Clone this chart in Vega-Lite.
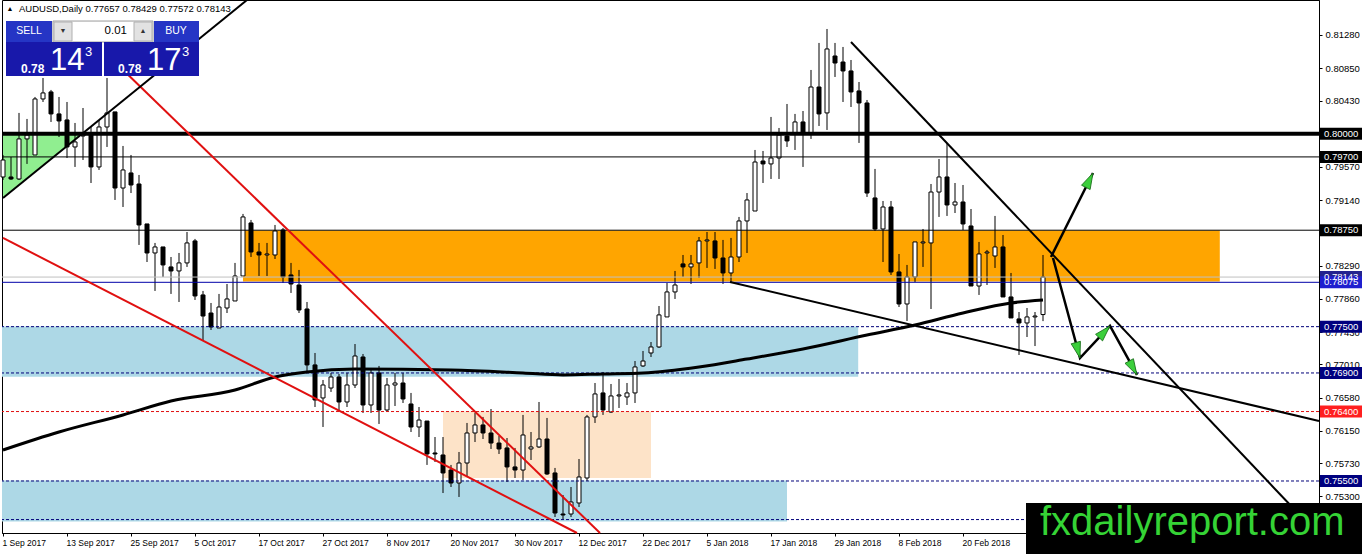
{
"$schema": "https://vega.github.io/schema/vega-lite/v6.json",
"width": 1317, "height": 533,
"autosize": {"type": "none"},
"padding": {"left": 2, "top": 0, "right": 43, "bottom": 21},
"background": "white",
"config": {"view": {"stroke": "black", "strokeWidth": 1}, "font": "Liberation Sans", "axis": {"labelOverlap": false, "labelFlush": false}, "scale": {"continuousPadding": 0}},
"resolve": {"scale": {"color": "independent"}},
"datasets": {
"candles": [
{"i":0,"open":0.7944,"high":0.79725,"low":0.79401,"close":0.7966},
{"i":1,"open":0.7944,"high":0.79699,"low":0.79401,"close":0.79414},
{"i":2,"open":0.79414,"high":0.8027,"low":0.79401,"close":0.79933},
{"i":3,"open":0.79933,"high":0.80192,"low":0.79609,"close":0.79984},
{"i":4,"open":0.79725,"high":0.80477,"low":0.79725,"close":0.80451},
{"i":5,"open":0.80451,"high":0.80723,"low":0.80412,"close":0.80529},
{"i":6,"open":0.80542,"high":0.80568,"low":0.80153,"close":0.80257},
{"i":7,"open":0.80257,"high":0.80477,"low":0.79958,"close":0.80166},
{"i":8,"open":0.80179,"high":0.80412,"low":0.79686,"close":0.79829},
{"i":9,"open":0.79829,"high":0.8014,"low":0.7957,"close":0.79894},
{"i":10,"open":0.79971,"high":0.80334,"low":0.7966,"close":0.79984},
{"i":11,"open":0.79984,"high":0.80088,"low":0.79362,"close":0.7957},
{"i":12,"open":0.7957,"high":0.80179,"low":0.79531,"close":0.80088},
{"i":13,"open":0.80088,"high":0.80723,"low":0.79829,"close":0.8027},
{"i":14,"open":0.80283,"high":0.80283,"low":0.79142,"close":0.79297},
{"i":15,"open":0.79297,"high":0.79842,"low":0.79051,"close":0.79531},
{"i":16,"open":0.79492,"high":0.79725,"low":0.79232,"close":0.79336},
{"i":17,"open":0.79349,"high":0.79466,"low":0.78559,"close":0.78818},
{"i":18,"open":0.78831,"high":0.78831,"low":0.78338,"close":0.78455},
{"i":19,"open":0.78455,"high":0.78585,"low":0.77963,"close":0.78533},
{"i":20,"open":0.78533,"high":0.78533,"low":0.78144,"close":0.783},
{"i":21,"open":0.78274,"high":0.78403,"low":0.77924,"close":0.78222},
{"i":22,"open":0.78222,"high":0.78455,"low":0.7782,"close":0.78326},
{"i":23,"open":0.78326,"high":0.78727,"low":0.78274,"close":0.78585},
{"i":24,"open":0.78611,"high":0.78637,"low":0.77846,"close":0.77898},
{"i":25,"open":0.77911,"high":0.77963,"low":0.77327,"close":0.77638},
{"i":26,"open":0.77677,"high":0.77807,"low":0.77457,"close":0.77496},
{"i":27,"open":0.77483,"high":0.77924,"low":0.77483,"close":0.77755},
{"i":28,"open":0.77742,"high":0.78053,"low":0.77677,"close":0.77859},
{"i":29,"open":0.77833,"high":0.78326,"low":0.77833,"close":0.78157},
{"i":30,"open":0.78157,"high":0.78961,"low":0.78157,"close":0.78922},
{"i":31,"open":0.78844,"high":0.78883,"low":0.78403,"close":0.78468},
{"i":32,"open":0.78468,"high":0.78585,"low":0.78157,"close":0.78429},
{"i":33,"open":0.78429,"high":0.78585,"low":0.78157,"close":0.78442},
{"i":34,"open":0.78429,"high":0.78818,"low":0.78377,"close":0.7874},
{"i":35,"open":0.78753,"high":0.78779,"low":0.78066,"close":0.78144},
{"i":36,"open":0.7817,"high":0.78326,"low":0.77937,"close":0.78053},
{"i":37,"open":0.7804,"high":0.78235,"low":0.77677,"close":0.77716},
{"i":38,"open":0.77729,"high":0.7782,"low":0.769,"close":0.77004},
{"i":39,"open":0.77004,"high":0.77159,"low":0.76459,"close":0.7655},
{"i":40,"open":0.76576,"high":0.76809,"low":0.762,"close":0.76744},
{"i":41,"open":0.76705,"high":0.769,"low":0.76654,"close":0.76848},
{"i":42,"open":0.76848,"high":0.76887,"low":0.7642,"close":0.76524},
{"i":43,"open":0.76524,"high":0.769,"low":0.76459,"close":0.76744},
{"i":44,"open":0.76744,"high":0.77275,"low":0.76705,"close":0.7712},
{"i":45,"open":0.77107,"high":0.77146,"low":0.76382,"close":0.76485},
{"i":46,"open":0.76485,"high":0.76939,"low":0.76382,"close":0.769},
{"i":47,"open":0.769,"high":0.76991,"low":0.76239,"close":0.7642},
{"i":48,"open":0.7642,"high":0.76835,"low":0.76394,"close":0.76744},
{"i":49,"open":0.76744,"high":0.769,"low":0.76472,"close":0.7677},
{"i":50,"open":0.7677,"high":0.769,"low":0.76511,"close":0.76563},
{"i":51,"open":0.76498,"high":0.76641,"low":0.76135,"close":0.762},
{"i":52,"open":0.762,"high":0.76459,"low":0.7607,"close":0.7629},
{"i":53,"open":0.76277,"high":0.76277,"low":0.75708,"close":0.7585},
{"i":54,"open":0.75863,"high":0.7607,"low":0.75746,"close":0.7585},
{"i":55,"open":0.75837,"high":0.7607,"low":0.75344,"close":0.75604},
{"i":56,"open":0.75642,"high":0.75708,"low":0.75422,"close":0.75474},
{"i":57,"open":0.75474,"high":0.75876,"low":0.75293,"close":0.75733},
{"i":58,"open":0.75733,"high":0.76252,"low":0.75565,"close":0.76122},
{"i":59,"open":0.76122,"high":0.76382,"low":0.76005,"close":0.76226},
{"i":60,"open":0.76226,"high":0.7633,"low":0.76044,"close":0.76122},
{"i":61,"open":0.76122,"high":0.76433,"low":0.75915,"close":0.75992},
{"i":62,"open":0.75992,"high":0.76083,"low":0.7585,"close":0.75915},
{"i":63,"open":0.75928,"high":0.76057,"low":0.75487,"close":0.75682},
{"i":64,"open":0.75682,"high":0.75928,"low":0.75539,"close":0.75642},
{"i":65,"open":0.75642,"high":0.76356,"low":0.75513,"close":0.76096},
{"i":66,"open":0.75915,"high":0.76135,"low":0.75772,"close":0.75941},
{"i":67,"open":0.75941,"high":0.76524,"low":0.75928,"close":0.76044},
{"i":68,"open":0.76044,"high":0.76317,"low":0.75578,"close":0.75591},
{"i":69,"open":0.75604,"high":0.75669,"low":0.75033,"close":0.75085},
{"i":70,"open":0.75072,"high":0.75318,"low":0.75007,"close":0.75059},
{"i":71,"open":0.75072,"high":0.75422,"low":0.75033,"close":0.75228},
{"i":72,"open":0.75215,"high":0.75785,"low":0.75163,"close":0.75552},
{"i":73,"open":0.75539,"high":0.76356,"low":0.755,"close":0.7633},
{"i":74,"open":0.7633,"high":0.7677,"low":0.76252,"close":0.76628},
{"i":75,"open":0.76641,"high":0.76913,"low":0.76356,"close":0.7642},
{"i":76,"open":0.76394,"high":0.76757,"low":0.76382,"close":0.76602},
{"i":77,"open":0.76602,"high":0.76822,"low":0.76446,"close":0.76615},
{"i":78,"open":0.76589,"high":0.7677,"low":0.76485,"close":0.76641},
{"i":79,"open":0.76641,"high":0.77055,"low":0.76511,"close":0.76978},
{"i":80,"open":0.76991,"high":0.77185,"low":0.76978,"close":0.77055},
{"i":81,"open":0.77159,"high":0.77301,"low":0.77107,"close":0.77237},
{"i":82,"open":0.77237,"high":0.77768,"low":0.77224,"close":0.77652},
{"i":83,"open":0.77626,"high":0.78066,"low":0.77626,"close":0.7795},
{"i":84,"open":0.7795,"high":0.78222,"low":0.77859,"close":0.7804},
{"i":85,"open":0.78313,"high":0.78429,"low":0.78144,"close":0.78274},
{"i":86,"open":0.78274,"high":0.78429,"low":0.78053,"close":0.78313},
{"i":87,"open":0.78326,"high":0.78662,"low":0.78131,"close":0.78611},
{"i":88,"open":0.78611,"high":0.78727,"low":0.78261,"close":0.78624},
{"i":89,"open":0.78611,"high":0.78727,"low":0.78248,"close":0.7839},
{"i":90,"open":0.7839,"high":0.78624,"low":0.78053,"close":0.78196},
{"i":91,"open":0.78196,"high":0.7865,"low":0.78079,"close":0.78403},
{"i":92,"open":0.78403,"high":0.78922,"low":0.78338,"close":0.7887},
{"i":93,"open":0.7887,"high":0.79232,"low":0.78455,"close":0.79142},
{"i":94,"open":0.78999,"high":0.7979,"low":0.78999,"close":0.79634},
{"i":95,"open":0.79647,"high":0.79777,"low":0.79362,"close":0.79609},
{"i":96,"open":0.79609,"high":0.80218,"low":0.79414,"close":0.79686},
{"i":97,"open":0.79686,"high":0.80075,"low":0.79414,"close":0.79984},
{"i":98,"open":0.79971,"high":0.80386,"low":0.79829,"close":0.79907},
{"i":99,"open":0.8001,"high":0.80257,"low":0.7979,"close":0.80153},
{"i":100,"open":0.80153,"high":0.80295,"low":0.7957,"close":0.8001},
{"i":101,"open":0.8001,"high":0.80827,"low":0.79933,"close":0.80606},
{"i":102,"open":0.80606,"high":0.81177,"low":0.80101,"close":0.80257},
{"i":103,"open":0.8027,"high":0.81358,"low":0.80049,"close":0.81099},
{"i":104,"open":0.81008,"high":0.81177,"low":0.80736,"close":0.80917},
{"i":105,"open":0.8093,"high":0.81125,"low":0.80412,"close":0.80814},
{"i":106,"open":0.80814,"high":0.80956,"low":0.80347,"close":0.80542},
{"i":107,"open":0.80555,"high":0.80671,"low":0.79881,"close":0.80399},
{"i":108,"open":0.80399,"high":0.80438,"low":0.79181,"close":0.79232},
{"i":109,"open":0.79168,"high":0.79544,"low":0.7874,"close":0.78766},
{"i":110,"open":0.78766,"high":0.79129,"low":0.78338,"close":0.79051},
{"i":111,"open":0.79051,"high":0.79129,"low":0.7817,"close":0.78209},
{"i":112,"open":0.78209,"high":0.78442,"low":0.77755,"close":0.77794},
{"i":113,"open":0.77794,"high":0.783,"low":0.77574,"close":0.78144},
{"i":114,"open":0.78144,"high":0.78598,"low":0.78079,"close":0.78598},
{"i":115,"open":0.78585,"high":0.78766,"low":0.78274,"close":0.78598},
{"i":116,"open":0.78585,"high":0.79349,"low":0.77729,"close":0.79245},
{"i":117,"open":0.79245,"high":0.79673,"low":0.78922,"close":0.7944},
{"i":118,"open":0.7944,"high":0.79881,"low":0.78935,"close":0.79077},
{"i":119,"open":0.79077,"high":0.79362,"low":0.78973,"close":0.79116},
{"i":120,"open":0.79116,"high":0.79336,"low":0.78753,"close":0.78831},
{"i":121,"open":0.78805,"high":0.79025,"low":0.78027,"close":0.78027},
{"i":122,"open":0.78027,"high":0.78598,"low":0.77911,"close":0.78442},
{"i":123,"open":0.78455,"high":0.78494,"low":0.7804,"close":0.78468},
{"i":124,"open":0.78416,"high":0.78935,"low":0.78261,"close":0.78533},
{"i":125,"open":0.78533,"high":0.78688,"low":0.77885,"close":0.77885},
{"i":126,"open":0.77885,"high":0.78196,"low":0.77613,"close":0.77613},
{"i":127,"open":0.776,"high":0.7769,"low":0.77133,"close":0.77548},
{"i":128,"open":0.77548,"high":0.77742,"low":0.77366,"close":0.77626},
{"i":129,"open":0.77626,"high":0.7769,"low":0.77249,"close":0.77638},
{"i":130,"open":0.77657,"high":0.78429,"low":0.77572,"close":0.78143}
],
"ma": [
{"i":0,"p":0.75902},{"i":7,"p":0.76135},{"i":15,"p":0.76356},{"i":21,"p":0.76537},{"i":29,"p":0.76679},{"i":34,"p":0.76848},{"i":38,"p":0.76913},{"i":44,"p":0.76951},{"i":56,"p":0.76939},{"i":65,"p":0.769},{"i":70,"p":0.76874},{"i":75,"p":0.76887},{"i":80,"p":0.769},{"i":87,"p":0.76978},{"i":93,"p":0.77081},{"i":100,"p":0.77211},{"i":108,"p":0.77392},{"i":114,"p":0.77522},{"i":120,"p":0.77677},{"i":126,"p":0.77807},{"i":130,"p":0.77846}
],
"levels": [
{"p":0.8,"label":"0.80000","kind":"black"},
{"p":0.797,"label":"0.79700","kind":"black"},
{"p":0.7875,"label":"0.78750","kind":"black"},
{"p":0.78143,"label":"0.78143","kind":"bid"},
{"p":0.78075,"label":"0.78075","kind":"blue"},
{"p":0.775,"label":"0.77500","kind":"navy"},
{"p":0.769,"label":"0.76900","kind":"navy"},
{"p":0.764,"label":"0.76400","kind":"red"},
{"p":0.755,"label":"0.75500","kind":"navy"}
]
},
"layer": [
{"data": {"values": [
 {"zone":"resistance","start":30,"end":152.1,"low":0.78086,"high":0.78747},
 {"zone":"support","start":-0.125,"end":106.9,"low":0.76852,"high":0.77502},
 {"zone":"base","start":-0.125,"end":98,"low":0.74975,"high":0.75506},
 {"zone":"consolidation","start":55,"end":81,"low":0.75539,"high":0.764}]},
 "mark": {"type":"rect"},
 "encoding": {
  "x": {"field":"start","type":"quantitative","title":null,"scale":{"domain":[-0.125,164.5],"nice":false,"zero":false,"padding":0},
   "axis":{"values":[0,8,16,24,32,40,48,56,64,72,80,88,96,104,112,120],
   "labelExpr":"['1 Sep 2017','13 Sep 2017','25 Sep 2017','5 Oct 2017','17 Oct 2017','27 Oct 2017','8 Nov 2017','20 Nov 2017','30 Nov 2017','12 Dec 2017','22 Dec 2017','5 Jan 2018','17 Jan 2018','29 Jan 2018','8 Feb 2018','20 Feb 2018'][round(datum.value/8)]",
   "labelAlign":"left","labelBaseline":"top","labelPadding":2,"labelOffset":-1,"tickSize":3,"labelFont":"Liberation Sans","labelFontSize":8.5,"labelColor":"black","domainColor":"black","tickColor":"black","grid":false,"labelOverlap":false,"labelFlush":false,"title":null}},
  "x2": {"field":"end"},
  "y": {"field":"low","type":"quantitative","title":null,"scale":{"domain":[0.748259,0.817336],"nice":false,"zero":false,"padding":0},
   "axis":{"orient":"right","values":[0.8128,0.8085,0.8043,0.7957,0.7914,0.7829,0.7786,0.7743,0.7701,0.7658,0.7615,0.7573,0.753],"format":".5f","labelFont":"Liberation Sans","labelFontSize":9.5,"labelColor":"black","tickSize":3,"labelPadding":3,"domainColor":"black","tickColor":"black","grid":false,"labelOverlap":false,"labelFlush":false,"labelBound":false,"title":null}},
  "y2": {"field":"high"},
  "color": {"field":"zone","type":"nominal","legend":null,"scale":{"domain":["resistance","support","base","consolidation"],"range":["#ffa500","#add8e6","#add8e6","#fde3c8"]}}
 }},
{"data": {"values": [{"i":0,"lo":0.79168,"hi":0.79984},{"i":9.625,"lo":0.79984,"hi":0.79984}]},
 "mark": {"type":"area","color":"#90ee90","opacity":1},
 "encoding": {"x":{"field":"i","type":"quantitative","title":null},"y":{"field":"lo","type":"quantitative","title":null},"y2":{"field":"hi"}}},
{"data": {"name":"candles"},
 "mark": {"type":"rule","color":"black","strokeWidth":1},
 "encoding": {"x":{"field":"i","type":"quantitative","title":null},"y":{"field":"low","type":"quantitative","title":null},"y2":{"field":"high"}}},
{"data": {"name":"candles"},
 "mark": {"type":"bar","width":4,"stroke":"black","strokeWidth":1},
 "encoding": {"x":{"field":"i","type":"quantitative","title":null},"y":{"field":"open","type":"quantitative","title":null},"y2":{"field":"close"},
  "fill":{"condition":{"test":"datum.close >= datum.open","value":"white"},"value":"black"}}},
{"data": {"values": [{"p":0.8}]}, "mark": {"type":"rule","color":"black","strokeWidth":4}, "encoding": {"y":{"field":"p","type":"quantitative","title":null}}},
{"data": {"values": [{"p":0.797},{"p":0.7875}]}, "mark": {"type":"rule","color":"black","strokeWidth":1}, "encoding": {"y":{"field":"p","type":"quantitative","title":null}}},
{"data": {"values": [{"p":0.78143}]}, "mark": {"type":"rule","color":"#c0c0c0","strokeWidth":1}, "encoding": {"y":{"field":"p","type":"quantitative","title":null}}},
{"data": {"values": [{"p":0.78075}]}, "mark": {"type":"rule","color":"#0000a8","strokeWidth":1}, "encoding": {"y":{"field":"p","type":"quantitative","title":null}}},
{"data": {"values": [{"p":0.775},{"p":0.769},{"p":0.755},{"p":0.75}]}, "mark": {"type":"rule","color":"#00007a","strokeWidth":1,"strokeDash":[3,2]}, "encoding": {"y":{"field":"p","type":"quantitative","title":null}}},
{"data": {"values": [{"p":0.764}]}, "mark": {"type":"rule","color":"#e01010","strokeWidth":1,"strokeDash":[3,2]}, "encoding": {"y":{"field":"p","type":"quantitative","title":null}}},
{"data": {"name":"ma"},
 "mark": {"type":"line","color":"black","strokeWidth":3,"interpolate":"monotone"},
 "encoding": {"x":{"field":"i","type":"quantitative","title":null},"y":{"field":"p","type":"quantitative","title":null}}},
{"data": {"values": [{"line":"A","i":14.375,"p":0.80892},{"line":"A","i":74.625,"p":0.748259},{"line":"B","i":0,"p":0.7865},{"line":"B","i":71.75,"p":0.748259}]},
 "mark": {"type":"line","color":"#e01010","strokeWidth":2},
 "encoding": {"x":{"field":"i","type":"quantitative","title":null},"y":{"field":"p","type":"quantitative","title":null},"detail":{"field":"line","type":"nominal"}}},
{"data": {"values": [{"line":"U","i":0,"p":0.79168},{"line":"U","i":30.5,"p":0.817336},{"line":"D","i":106,"p":0.8119},{"line":"D","i":160.9,"p":0.75189},{"line":"L","i":90.875,"p":0.78079},{"line":"L","i":164.5,"p":0.76278}]},
 "mark": {"type":"line","color":"black","strokeWidth":2},
 "encoding": {"x":{"field":"i","type":"quantitative","title":null},"y":{"field":"p","type":"quantitative","title":null},"detail":{"field":"line","type":"nominal"}}},
{"data": {"values": [{"path":"up","i":131,"p":0.78403},{"path":"up","i":136.25,"p":0.79492},{"path":"zig","i":131.25,"p":0.7839},{"path":"zig","i":134.625,"p":0.77094},{"path":"zig","i":138.375,"p":0.77509},{"path":"zig","i":141.75,"p":0.76874}]},
 "mark": {"type":"line","color":"black","strokeWidth":2.5},
 "encoding": {"x":{"field":"i","type":"quantitative","title":null},"y":{"field":"p","type":"quantitative","title":null},"detail":{"field":"path","type":"nominal"}}},
{"data": {"values": [{"i":135.8,"p":0.79398}]},
 "mark": {"type":"point","shape":"M0,-1L0.6,1L-0.6,1Z","size":256,"angle":26.6,"filled":true,"fill":"#3ccf3c","stroke":"#1a6e1a","strokeWidth":0.8,"opacity":1},
 "encoding": {"x":{"field":"i","type":"quantitative","title":null},"y":{"field":"p","type":"quantitative","title":null}}},
{"data": {"values": [{"i":134.36,"p":0.77194}]},
 "mark": {"type":"point","shape":"M0,-1L0.6,1L-0.6,1Z","size":256,"angle":164.9,"filled":true,"fill":"#3ccf3c","stroke":"#1a6e1a","strokeWidth":0.8,"opacity":1},
 "encoding": {"x":{"field":"i","type":"quantitative","title":null},"y":{"field":"p","type":"quantitative","title":null}}},
{"data": {"values": [{"i":137.69,"p":0.77434}]},
 "mark": {"type":"point","shape":"M0,-1L0.6,1L-0.6,1Z","size":256,"angle":43.1,"filled":true,"fill":"#3ccf3c","stroke":"#1a6e1a","strokeWidth":0.8,"opacity":1},
 "encoding": {"x":{"field":"i","type":"quantitative","title":null},"y":{"field":"p","type":"quantitative","title":null}}},
{"data": {"values": [{"i":141.26,"p":0.76964}]},
 "mark": {"type":"point","shape":"M0,-1L0.6,1L-0.6,1Z","size":256,"angle":151.1,"filled":true,"fill":"#3ccf3c","stroke":"#1a6e1a","strokeWidth":0.8,"opacity":1},
 "encoding": {"x":{"field":"i","type":"quantitative","title":null},"y":{"field":"p","type":"quantitative","title":null}}},
{"data": {"name":"levels"},
 "mark": {"type":"tick","orient":"horizontal","size":42,"thickness":12,"opacity":1},
 "encoding": {"x":{"datum":167.25,"type":"quantitative"},"y":{"field":"p","type":"quantitative","title":null},
  "color":{"field":"kind","type":"nominal","legend":null,"scale":{"domain":["black","bid","blue","navy","red"],"range":["#000000","#23238f","#1f1fcf","#00007f","#ff1f1f"]}}}},
{"data": {"name":"levels"},
 "mark": {"type":"text","align":"left","baseline":"middle","color":"white","font":"Liberation Sans","fontSize":9.5},
 "encoding": {"x":{"datum":165.125,"type":"quantitative"},"y":{"field":"p","type":"quantitative","title":null},"text":{"field":"label"}}},
{"data": {"values": [{}]}, "mark": {"type":"rect","color":"black"},
 "encoding": {"x":{"datum":127.875,"type":"quantitative"},"x2":{"datum":170},"y":{"datum":0.7455,"type":"quantitative"},"y2":{"datum":0.75215}}},
{"data": {"values": [{}]}, "mark": {"type":"text","align":"left","baseline":"alphabetic","color":"#35d335","font":"Liberation Sans","fontSize":40,"text":"fxdailyreport.com"},
 "encoding": {"x":{"datum":129.625,"type":"quantitative"},"y":{"datum":0.748,"type":"quantitative"}}},
{"data": {"values": [{}]}, "mark": {"type":"rect","color":"#2535c5"},
 "encoding": {"x":{"datum":0.375,"type":"quantitative"},"x2":{"datum":6.125},"y":{"datum":0.81189,"type":"quantitative"},"y2":{"datum":0.81461}}},
{"data": {"values": [{}]}, "mark": {"type":"rect","fill":"white","stroke":"#9a9a9a","strokeWidth":1},
 "encoding": {"x":{"datum":6.25,"type":"quantitative"},"x2":{"datum":18.75},"y":{"datum":0.81189,"type":"quantitative"},"y2":{"datum":0.81461}}},
{"data": {"values": [{}]}, "mark": {"type":"rect","fill":"#e2e2e2","stroke":"#b0b0b0","strokeWidth":1},
 "encoding": {"x":{"datum":6.375,"type":"quantitative"},"x2":{"datum":8.625},"y":{"datum":0.81202,"type":"quantitative"},"y2":{"datum":0.81448}}},
{"data": {"values": [{}]}, "mark": {"type":"rect","fill":"#e2e2e2","stroke":"#b0b0b0","strokeWidth":1},
 "encoding": {"x":{"datum":16.375,"type":"quantitative"},"x2":{"datum":18.625},"y":{"datum":0.81202,"type":"quantitative"},"y2":{"datum":0.81448}}},
{"data": {"values": [{}]}, "mark": {"type":"rect","color":"#2535c5"},
 "encoding": {"x":{"datum":18.875,"type":"quantitative"},"x2":{"datum":24.5},"y":{"datum":0.81189,"type":"quantitative"},"y2":{"datum":0.81461}}},
{"data": {"values": [{}]}, "mark": {"type":"rect","color":"#1818aa"},
 "encoding": {"x":{"datum":0.375,"type":"quantitative"},"x2":{"datum":12.375},"y":{"datum":0.80749,"type":"quantitative"},"y2":{"datum":0.81189}}},
{"data": {"values": [{}]}, "mark": {"type":"rect","color":"#1818aa"},
 "encoding": {"x":{"datum":12.625,"type":"quantitative"},"x2":{"datum":24.5},"y":{"datum":0.80749,"type":"quantitative"},"y2":{"datum":0.81189}}},
{"data": {"values": [{}]}, "mark": {"type":"text","align":"center","baseline":"middle","color":"black","fontSize":7,"text":"▲"},
 "encoding": {"x":{"datum":0.875,"type":"quantitative"},"y":{"datum":0.81617,"type":"quantitative"}}},
{"data": {"values": [{}]}, "mark": {"type":"text","align":"left","baseline":"middle","color":"black","font":"Liberation Sans","fontSize":9.5,"text":"AUDUSD,Daily  0.77657 0.78429 0.77572 0.78143"},
 "encoding": {"x":{"datum":2,"type":"quantitative"},"y":{"datum":0.81617,"type":"quantitative"}}},
{"data": {"values": [{}]}, "mark": {"type":"text","align":"center","baseline":"middle","color":"white","fontSize":10.5,"text":"SELL"},
 "encoding": {"x":{"datum":3.25,"type":"quantitative"},"y":{"datum":0.81332,"type":"quantitative"}}},
{"data": {"values": [{}]}, "mark": {"type":"text","align":"center","baseline":"middle","color":"white","fontSize":10.5,"text":"BUY"},
 "encoding": {"x":{"datum":21.625,"type":"quantitative"},"y":{"datum":0.81332,"type":"quantitative"}}},
{"data": {"values": [{}]}, "mark": {"type":"text","align":"center","baseline":"middle","color":"#333333","fontSize":7,"text":"▼"},
 "encoding": {"x":{"datum":7.5,"type":"quantitative"},"y":{"datum":0.81332,"type":"quantitative"}}},
{"data": {"values": [{}]}, "mark": {"type":"text","align":"center","baseline":"middle","color":"#333333","fontSize":7,"text":"▲"},
 "encoding": {"x":{"datum":17.5,"type":"quantitative"},"y":{"datum":0.81332,"type":"quantitative"}}},
{"data": {"values": [{}]}, "mark": {"type":"text","align":"right","baseline":"middle","color":"black","fontSize":11.5,"text":"0.01"},
 "encoding": {"x":{"datum":15.5,"type":"quantitative"},"y":{"datum":0.81332,"type":"quantitative"}}},
{"data": {"values": [{}]}, "mark": {"type":"text","align":"left","baseline":"alphabetic","color":"white","fontSize":12,"fontWeight":"bold","text":"0.78"},
 "encoding": {"x":{"datum":2.25,"type":"quantitative"},"y":{"datum":0.80791,"type":"quantitative"}}},
{"data": {"values": [{}]}, "mark": {"type":"text","align":"left","baseline":"alphabetic","color":"white","fontSize":31,"text":"14"},
 "encoding": {"x":{"datum":5.875,"type":"quantitative"},"y":{"datum":0.80826,"type":"quantitative"}}},
{"data": {"values": [{}]}, "mark": {"type":"text","align":"left","baseline":"alphabetic","color":"white","fontSize":13,"text":"3"},
 "encoding": {"x":{"datum":10.25,"type":"quantitative"},"y":{"datum":0.81008,"type":"quantitative"}}},
{"data": {"values": [{}]}, "mark": {"type":"text","align":"left","baseline":"alphabetic","color":"white","fontSize":12,"fontWeight":"bold","text":"0.78"},
 "encoding": {"x":{"datum":14.375,"type":"quantitative"},"y":{"datum":0.80791,"type":"quantitative"}}},
{"data": {"values": [{}]}, "mark": {"type":"text","align":"left","baseline":"alphabetic","color":"white","fontSize":31,"text":"17"},
 "encoding": {"x":{"datum":18,"type":"quantitative"},"y":{"datum":0.80826,"type":"quantitative"}}},
{"data": {"values": [{}]}, "mark": {"type":"text","align":"left","baseline":"alphabetic","color":"white","fontSize":13,"text":"3"},
 "encoding": {"x":{"datum":22.375,"type":"quantitative"},"y":{"datum":0.81008,"type":"quantitative"}}}
]
}
